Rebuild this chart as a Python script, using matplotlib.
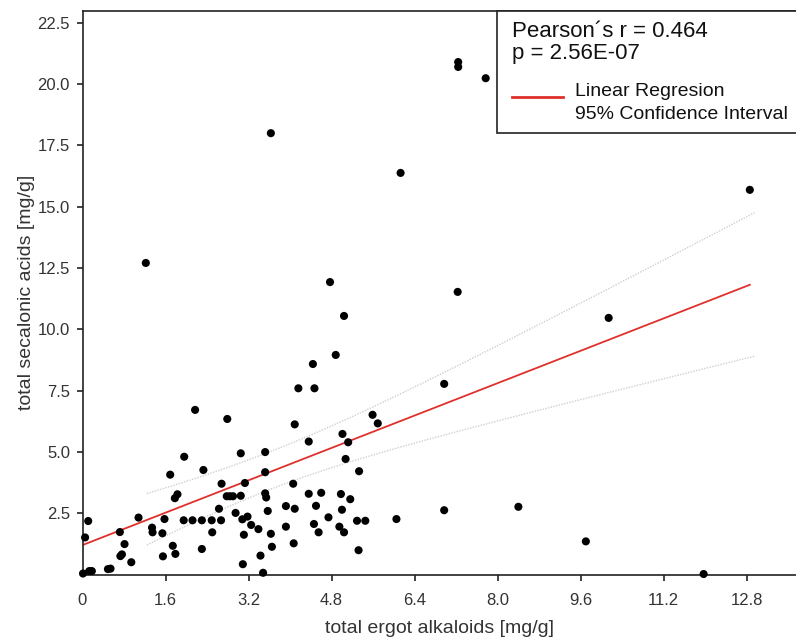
import numpy as np
import matplotlib
matplotlib.use('Agg')
import matplotlib.pyplot as plt
from matplotlib.patches import Rectangle

plt.rcParams['font.family'] = ['Liberation Sans', 'DejaVu Sans']

# total ergot alkaloids [mg/g]
ergot = [0.01, 0.13, 0.18, 0.05, 0.11, 0.49, 0.54, 0.72, 0.81, 0.76, 0.73, 0.94, 1.08, 1.22,
         1.34, 1.35, 1.54, 1.58, 1.55, 1.69, 1.74, 1.79, 1.83, 1.78, 1.95, 1.96, 2.12, 2.17,
         2.30, 2.33, 2.30, 2.49, 2.50, 2.63, 2.67, 2.68, 2.79, 2.78, 2.84, 2.90, 2.95, 3.05,
         3.05, 3.13, 3.08, 3.18, 3.11, 3.09, 3.25, 3.39, 3.43, 3.48, 3.52, 3.52, 3.52, 3.54,
         3.57, 3.63, 3.63, 3.65, 3.92, 3.92, 4.06, 4.09, 4.09, 4.07, 4.16, 4.36, 4.36, 4.44,
         4.47, 4.46, 4.50, 4.55, 4.60, 4.74, 4.77, 4.88, 4.95, 4.98, 5.00, 5.01, 5.04, 5.04,
         5.07, 5.12, 5.16, 5.29, 5.32, 5.33, 5.45, 5.59, 5.69, 6.05, 6.13, 6.97, 6.97, 7.24,
         7.24, 7.23, 7.77, 8.40, 9.70, 10.14, 11.97, 12.86]
# total secalonic acids [mg/g]
secalonic = [0.04, 0.14, 0.14, 1.51, 2.18, 0.22, 0.24, 1.73, 1.24, 0.82, 0.75, 0.50, 2.32, 12.70,
             1.91, 1.72, 1.68, 2.26, 0.74, 4.07, 1.17, 0.84, 3.27, 3.11, 2.21, 4.80, 2.21, 6.71,
             2.21, 4.26, 1.04, 2.21, 1.72, 2.68, 2.21, 3.70, 6.34, 3.19, 3.19, 3.19, 2.51, 4.94,
             3.21, 3.73, 2.25, 2.36, 1.62, 0.42, 2.02, 1.85, 0.77, 0.07, 4.99, 4.17, 3.31, 3.14,
             2.59, 17.99, 1.66, 1.13, 2.79, 1.95, 3.70, 6.12, 2.68, 1.27, 7.59, 5.42, 3.29, 8.58,
             7.59, 2.06, 2.80, 1.72, 3.33, 2.33, 11.92, 8.95, 1.95, 3.28, 2.64, 5.73, 10.54, 1.72,
             4.71, 5.39, 3.07, 2.19, 0.99, 4.21, 2.19, 6.51, 6.16, 2.26, 16.37, 7.77, 2.62, 20.89,
             20.69, 11.52, 20.23, 2.76, 1.35, 10.46, 0.02, 15.68]

# regression line and 95% CI
reg_intercept = 1.2
reg_slope = 0.825
ci_x = [1.24, 12.95]
ci_upper = [3.30, 14.75]
ci_lower = [1.20, 8.90]

x_ticks = [0, 1.6, 3.2, 4.8, 6.4, 8.0, 9.6, 11.2, 12.8]
x_tick_labels = ['0', '1.6', '3.2', '4.8', '6.4', '8.0', '9.6', '11.2', '12.8']
y_ticks = [2.5, 5.0, 7.5, 10.0, 12.5, 15.0, 17.5, 20.0, 22.5]

fig = plt.figure(figsize=(7.96, 6.38), dpi=100)
ax = fig.add_axes([82.5 / 796, (638 - 574.5) / 638, (796 - 82.5) / 796, (574.5 - 11) / 638])

# CI: hyperbola-shaped bands through the read end points
cx = np.linspace(ci_x[0], ci_x[1], 100)
xm = 3.6
def band(xv, y0, y1):
    r0 = abs(y0 - (reg_intercept + reg_slope * ci_x[0]))
    r1 = abs(y1 - (reg_intercept + reg_slope * ci_x[1]))
    a = np.sqrt(max((r0**2 * (ci_x[1] - xm)**2 - r1**2 * (ci_x[0] - xm)**2) /
                    ((ci_x[1] - xm)**2 - (ci_x[0] - xm)**2), 0.01))
    b2 = (r1**2 - a**2) / (ci_x[1] - xm)**2
    return np.sqrt(a**2 + b2 * (xv - xm)**2)

hw_up = band(cx, ci_upper[0], ci_upper[1])
hw_lo = band(cx, ci_lower[0], ci_lower[1])
yreg = reg_intercept + reg_slope * cx
ax.plot(cx, yreg + hw_up, color='#cfcfcf', lw=1.0, ls=(0, (1, 1)), zorder=1)
ax.plot(cx, yreg - hw_lo, color='#cfcfcf', lw=1.0, ls=(0, (1, 1)), zorder=1)

rx = np.array([0, max(ergot)])
ax.plot(rx, reg_intercept + reg_slope * rx, color='#e0302c', lw=1.3, zorder=2)

ax.scatter(ergot, secalonic, s=34, color='black', edgecolors='none', zorder=3, clip_on=False)

ax.set_xlim(0, 13.75)
ax.set_ylim(0, 22.97)
ax.set_xticks(x_ticks)
ax.set_xticklabels(x_tick_labels)
ax.set_yticks(y_ticks)
ax.set_yticklabels(['%.1f' % v for v in y_ticks])
ax.spines['right'].set_visible(False)
for s in ['left', 'bottom', 'top']:
    ax.spines[s].set_linewidth(1.2)
    ax.spines[s].set_color('#222222')
ax.tick_params(direction='out', length=4, width=1.2, colors='#222222', labelsize=12,
               labelcolor='#333333')
ax.tick_params(axis='x', pad=9)
ax.tick_params(axis='y', pad=5)
ax.xaxis.get_major_ticks()[0].tick1line.set_visible(False)

ax.set_xlabel('total ergot alkaloids [mg/g]', fontsize=14, color='#333333', labelpad=9)
ax.set_ylabel('total secalonic acids [mg/g]', fontsize=14, color='#333333', labelpad=2)

# legend box
ax.add_patch(Rectangle((0.581, 0.7835), 0.45, 0.2165, transform=ax.transAxes, fill=True,
                       facecolor='white', edgecolor='#222222', lw=1.2, clip_on=False, zorder=5))
ax.text(0.602, 0.964, 'Pearson\u00b4s r = 0.464', transform=ax.transAxes, fontsize=16,
        va='center', ha='left', color='#111111', zorder=6)
ax.text(0.602, 0.925, 'p = 2.56E-07', transform=ax.transAxes, fontsize=16,
        va='center', ha='left', color='#111111', zorder=6)
ax.plot([0.602, 0.674], [0.848, 0.848], transform=ax.transAxes, color='#e0302c', lw=2,
        zorder=6, clip_on=False)
ax.text(0.690, 0.857, 'Linear Regresion', transform=ax.transAxes, fontsize=14,
        va='center', ha='left', color='#111111', zorder=6)
ax.text(0.690, 0.817, '95% Confidence Interval', transform=ax.transAxes, fontsize=14,
        va='center', ha='left', color='#111111', zorder=6)

fig.savefig('out.png', dpi=100)
